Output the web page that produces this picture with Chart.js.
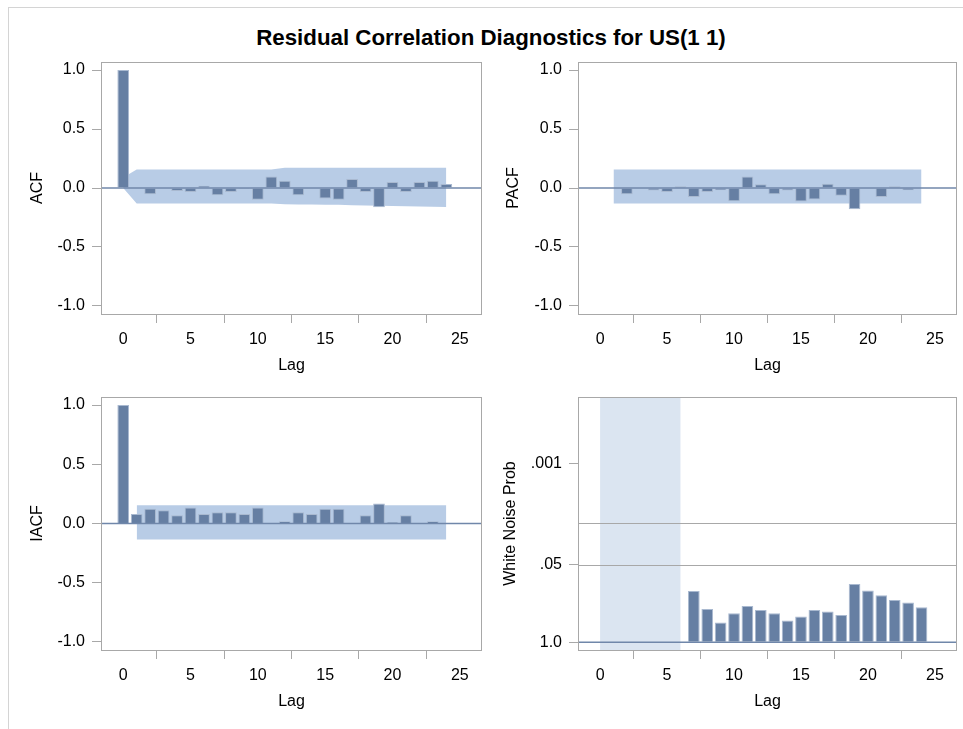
<!DOCTYPE html>
<html>
<head>
<meta charset="utf-8">
<script src="https://cdn.jsdelivr.net/npm/chart.js@4.4.1/dist/chart.umd.min.js"></script>
<style>
  body { margin: 0; background: #fff; width: 963px; height: 729px; overflow: hidden; position: relative; }
  #frame { position: absolute; left: 8px; top: 7px; right: 0; bottom: 0; border-top: 1px solid #d4d4d4; border-left: 1px solid #d4d4d4; }
  #title { position: absolute; left: 0; width: 982px; top: 25px; line-height: 24px; text-align: center;
           font: bold 22.3px 'Liberation Sans', Arial, sans-serif; color: #000; }
  canvas { position: absolute; }
</style>
</head>
<body>
<div id="frame"></div>
<div id="title">Residual Correlation Diagnostics for US(1 1)</div>
<canvas id="acfChart" width="490" height="340" style="left:0;top:50px"></canvas>
<canvas id="pacfChart" width="473" height="340" style="left:490px;top:50px"></canvas>
<canvas id="iacfChart" width="490" height="340" style="left:0;top:385px"></canvas>
<canvas id="wnChart" width="473" height="340" style="left:490px;top:385px"></canvas>
<script>
// lags 0..24
const lags = [0,1,2,3,4,5,6,7,8,9,10,11,12,13,14,15,16,17,18,19,20,21,22,23,24];
const acf  = [1.0, 0.003, -0.053, 0.004, -0.025, -0.034, 0.02, -0.062, -0.034, -0.008, -0.10, 0.098, 0.062,
              -0.062, -0.005, -0.09, -0.10, 0.076, -0.034, -0.163, 0.05, -0.034, 0.05, 0.062, 0.034];
const acfUpper = [0.09, 0.157, 0.157, 0.157, 0.157, 0.157, 0.157, 0.157, 0.157, 0.157, 0.157, 0.157, 0.171,
                  0.171, 0.171, 0.171, 0.171, 0.171, 0.171, 0.171, 0.171, 0.171, 0.171, 0.171, 0.171];
const acfLower = [0.0, -0.132, -0.132, -0.132, -0.132, -0.132, -0.132, -0.132, -0.132, -0.132, -0.132, -0.132, -0.138,
                  -0.139, -0.14, -0.142, -0.143, -0.146, -0.148, -0.15, -0.153, -0.155, -0.157, -0.158, -0.16];

// lags 1..24
const pLags = lags.slice(1);
const pacf = [0.0, -0.053, 0.0, -0.022, -0.034, 0.014, -0.076, -0.034, -0.02, -0.112, 0.098, 0.031,
              -0.053, -0.022, -0.115, -0.098, 0.037, -0.065, -0.18, 0.0, -0.076, 0.014, -0.02, 0.0];
const pacfUpper = pLags.map(() => 0.157);
const pacfLower = pLags.map(() => -0.132);

const iacf = [1.0, 0.081, 0.124, 0.112, 0.07, 0.135, 0.081, 0.096, 0.096, 0.081, 0.135, 0.0, 0.02,
              0.096, 0.081, 0.124, 0.124, 0.0, 0.07, 0.169, 0.011, 0.07, 0.0, 0.02, 0.0];
const iacfUpper = pLags.map(() => 0.154);
const iacfLower = pLags.map(() => -0.135);

// white noise test probabilities, lags 7..24
const wnLags = [7,8,9,10,11,12,13,14,15,16,17,18,19,20,21,22,23,24];
const wnProb = [0.138, 0.276, 0.468, 0.326, 0.246, 0.287, 0.326, 0.433, 0.371, 0.287, 0.306, 0.348,
                0.106, 0.136, 0.163, 0.195, 0.216, 0.259];
const wnShade = [0, 6];
const wnTicks = [1.0, 0.05, 0.001];
const wnRefs = [0.05, 0.01];

const lagTicks = [0, 5, 10, 15, 20, 25];
const corrTicks = [-1.0, -0.5, 0.0, 0.5, 1.0];

const BAR = '#667fa3', BAR_EDGE = '#a9b9d0', BAND = '#b8cce6', SHADE = '#dbe5f1';
const ZERO = '#7087aa', FRAME = '#a8a8a8';

Chart.defaults.font.family = "'Liberation Sans', Arial, sans-serif";
Chart.defaults.font.size = 16;
Chart.defaults.color = '#000';

const nlog = p => -Math.log10(p);
const pts = (xs, ys, f = v => v) => xs.map((x, i) => ({ x: x, y: f(ys[i]) }));

const boxPlugin = {
  id: 'box',
  beforeDatasetsDraw(chart, args, opts) {
    const { ctx, chartArea: a, scales: { x, y } } = chart;
    ctx.save();
    if (opts.shade) {
      const x0 = x.getPixelForValue(opts.shade[0]), x1 = x.getPixelForValue(opts.shade[1]);
      ctx.fillStyle = SHADE;
      ctx.fillRect(x0, a.top, x1 - x0, a.bottom - a.top);
    }
    (opts.refs || []).forEach(v => {
      const py = Math.round(y.getPixelForValue(v)) + 0.5;
      ctx.strokeStyle = FRAME; ctx.lineWidth = 1;
      ctx.beginPath(); ctx.moveTo(a.left, py); ctx.lineTo(a.right, py); ctx.stroke();
    });
    ctx.restore();
  },
  afterDatasetsDraw(chart, args, opts) {
    const { ctx, chartArea: a, scales: { y } } = chart;
    ctx.save();
    const py = y.getPixelForValue(opts.zero);
    ctx.strokeStyle = ZERO; ctx.lineWidth = 1.5;
    ctx.beginPath(); ctx.moveTo(a.left, py); ctx.lineTo(a.right, py); ctx.stroke();
    ctx.strokeStyle = FRAME; ctx.lineWidth = 1;
    ctx.strokeRect(Math.round(a.left) + 0.5, Math.round(a.top) + 0.5,
                   Math.round(a.right - a.left) - 1, Math.round(a.bottom - a.top));
    ctx.restore();
  }
};

function bars(data) {
  return { type: 'bar', data: data, backgroundColor: BAR, borderColor: BAR_EDGE, borderWidth: 1,
           barPercentage: 0.87, categoryPercentage: 1.0 };
}
function band(up, low) {
  return [
    { type: 'line', data: up, fill: '+1', backgroundColor: BAND, borderWidth: 0, pointRadius: 0, tension: 0 },
    { type: 'line', data: low, fill: false, borderWidth: 0, pointRadius: 0, tension: 0 }
  ];
}

function panel(id, cfg) {
  const axisGrid = { display: true, drawOnChartArea: false, drawTicks: true, tickLength: 9, color: FRAME };
  return new Chart(document.getElementById(id), {
    type: 'bar',
    data: { datasets: cfg.datasets },
    options: {
      responsive: false, animation: false, events: [],
      devicePixelRatio: 1,
      layout: { padding: cfg.pad },
      plugins: { legend: { display: false }, tooltip: { enabled: false },
                 box: { zero: cfg.zero, shade: cfg.shade, refs: cfg.refs } },
      scales: {
        x: {
          type: 'linear', min: -1.65, max: 26.65, offset: false,
          afterBuildTicks: s => { s.ticks = lagTicks.map(v => ({ value: v })); },
          afterFit: s => { s.height = cfg.xHeight; s.paddingLeft = 0; s.paddingRight = 0; },
          ticks: { padding: 7, maxRotation: 0, autoSkip: false, callback: v => String(v) },
          grid: axisGrid, border: { display: false },
          title: { display: true, text: 'Lag', padding: 0 }
        },
        y: {
          type: 'linear', min: cfg.yMin, max: cfg.yMax,
          afterBuildTicks: s => { s.ticks = cfg.yTicks.map(v => ({ value: v })); },
          afterFit: s => { s.width = cfg.yWidth; s.paddingTop = 0; s.paddingBottom = 0; },
          ticks: { padding: 7, autoSkip: false, callback: cfg.fmt },
          grid: axisGrid, border: { display: false },
          title: { display: true, text: cfg.yTitle, padding: 0 }
        }
      }
    },
    plugins: [boxPlugin]
  });
}

const corrFmt = v => v.toFixed(1);

panel('acfChart', {
  datasets: [bars(pts(lags, acf)), ...band(pts(lags, acfUpper), pts(lags, acfLower))],
  yTitle: 'ACF', yMin: -1.068, yMax: 1.068, yTicks: corrTicks, fmt: corrFmt, zero: 0,
  pad: { left: 28.4, right: 8, top: 12, bottom: 14.4 }, yWidth: 72.6, xHeight: 61.6
});
panel('pacfChart', {
  datasets: [bars(pts(pLags, pacf)), ...band(pts(pLags, pacfUpper), pts(pLags, pacfLower))],
  yTitle: 'PACF', yMin: -1.068, yMax: 1.068, yTicks: corrTicks, fmt: corrFmt, zero: 0,
  pad: { left: 14.4, right: 6, top: 12, bottom: 14.4 }, yWidth: 73.6, xHeight: 61.6
});
panel('iacfChart', {
  datasets: [bars(pts(lags, iacf)), ...band(pts(pLags, iacfUpper), pts(pLags, iacfLower))],
  yTitle: 'IACF', yMin: -1.068, yMax: 1.068, yTicks: corrTicks, fmt: corrFmt, zero: 0,
  pad: { left: 28.4, right: 8, top: 12, bottom: 13.4 }, yWidth: 72.6, xHeight: 61.6
});
panel('wnChart', {
  datasets: [bars(pts(wnLags, wnProb, nlog))],
  yTitle: 'White Noise Prob', yMin: -0.13, yMax: 4.11,
  yTicks: wnTicks.map(nlog),
  fmt: v => { const p = Math.pow(10, -v); return p >= 0.999 ? '1.0' : String(+p.toPrecision(2)).replace(/^0/, ''); },
  zero: 0, shade: wnShade, refs: wnRefs.map(nlog),
  pad: { left: 11.4, right: 6, top: 12, bottom: 13.4 }, yWidth: 76.6, xHeight: 61.6
});
</script>
</body>
</html>
